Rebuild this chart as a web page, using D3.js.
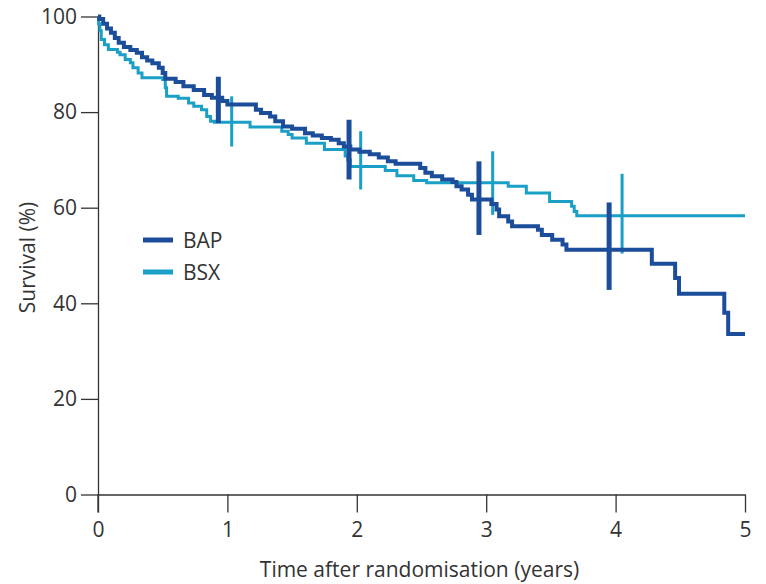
<!DOCTYPE html>
<html lang="en">
<head>
<meta charset="utf-8">
<title>Survival BAP vs BSX</title>
<script src="https://d3js.org/d3.v7.min.js"></script>
<style>
  body { margin: 0; background: #fff; }
  svg text { font-family: "Open Sans", sans-serif; fill: #333; }
</style>
</head>
<body>
<svg id="chart" width="766" height="584"></svg>
<script>
// step points: [years, survival %]
const bap = [
  [0, 100], [0.01, 99.5], [0.04, 98.5], [0.07, 97.5], [0.1, 96.6], [0.13, 95.5],
  [0.16, 94.5], [0.2, 93.6], [0.25, 93.0], [0.3, 92.4], [0.34, 91.5], [0.38, 90.8],
  [0.42, 90.2], [0.47, 89.3], [0.5, 88.2], [0.52, 87.0], [0.6, 86.3], [0.66, 85.4],
  [0.74, 84.6], [0.82, 83.6], [0.88, 83.0], [0.96, 82.3], [1.0, 81.6], [1.22, 80.5],
  [1.26, 79.8], [1.33, 79.1], [1.37, 78.1], [1.43, 77.0], [1.5, 76.5], [1.6, 75.6],
  [1.66, 75.1], [1.73, 74.6], [1.8, 74.2], [1.86, 73.5], [1.9, 72.8], [1.95, 72.2],
  [2.02, 71.7], [2.1, 71.2], [2.17, 70.5], [2.24, 69.7], [2.3, 69.2], [2.49, 68.3],
  [2.53, 67.3], [2.58, 66.6], [2.66, 65.9], [2.74, 65.4], [2.77, 64.5], [2.81, 63.8],
  [2.86, 62.7], [2.89, 61.7], [3.04, 60.8], [3.08, 59.6], [3.1, 58.2], [3.17, 57.1],
  [3.2, 56.1], [3.4, 55.4], [3.43, 54.3], [3.51, 53.3], [3.59, 52.3], [3.62, 51.2],
  [4.28, 48.3], [4.46, 45.3], [4.49, 42.0], [4.84, 38.0], [4.87, 33.6], [5.0, 33.6]
];
const bsx = [
  [0, 100], [0.005, 98.5], [0.015, 97.0], [0.025, 95.2], [0.05, 94.1], [0.08, 93.1],
  [0.15, 92.5], [0.17, 92.0], [0.21, 91.0], [0.25, 90.3], [0.27, 89.3], [0.31, 88.2],
  [0.34, 87.2], [0.5, 86.8], [0.52, 85.1], [0.53, 83.3], [0.62, 82.9], [0.7, 81.9],
  [0.74, 81.2], [0.8, 80.5], [0.84, 79.1], [0.87, 78.1], [0.9, 77.9], [1.175, 76.9],
  [1.42, 76.0], [1.47, 75.3], [1.5, 74.6], [1.61, 73.5], [1.75, 72.2], [1.91, 70.8],
  [1.93, 70.0], [1.95, 68.6], [2.22, 67.8], [2.31, 66.7], [2.44, 65.7], [2.54, 65.2],
  [3.17, 64.5], [3.31, 63.1], [3.49, 61.3], [3.66, 60.3], [3.68, 59.2], [3.7, 58.3],
  [5.0, 58.3]
];
// confidence interval bars: [years, low, high]
const bapCI = [[0.93, 77.7, 87.4], [1.94, 65.9, 78.4], [2.944, 54.3, 69.7], [3.95, 42.8, 61.1]];
const bsxCI = [[1.033, 72.8, 83.3], [2.03, 63.8, 76.0], [3.05, 58.5, 71.8], [4.05, 50.4, 67.1]];
const xTicks = [0, 1, 2, 3, 4, 5];
const yTicks = [0, 20, 40, 60, 80, 100];
const series = [
  { name: "BAP", pts: bap, ci: bapCI, color: "#1b4d9b", w: 4, ciW: 5 },
  { name: "BSX", pts: bsx, ci: bsxCI, color: "#1a9fc6", w: 3, ciW: 3 }
];

const svg = d3.select("#chart");
const x = d3.scaleLinear().domain([0, 5]).range([98, 745]);
const y = d3.scaleLinear().domain([0, 100]).range([494.5, 16.5]);

const xAxis = svg.append("g")
  .attr("transform", "translate(0," + y(0) + ")")
  .call(d3.axisBottom(x).tickValues(xTicks).tickFormat(d3.format("d"))
    .tickSize(18).tickSizeOuter(0).tickPadding(10));
const yAxis = svg.append("g")
  .attr("transform", "translate(" + x(0) + ",0)")
  .call(d3.axisLeft(y).tickValues(yTicks).tickFormat(d3.format("d"))
    .tickSize(17).tickSizeOuter(0).tickPadding(4));

[xAxis, yAxis].forEach(function(g) {
  g.selectAll("path, line").attr("stroke", "#333").attr("stroke-width", 1.3);
  g.selectAll("text").attr("font-size", 21).attr("fill", "#333")
    .style("font-family", '"Open Sans", sans-serif');
});
// y axis line continues down to the bottom of the x ticks
yAxis.append("line").attr("x1", 0).attr("x2", 0).attr("y1", y(0)).attr("y2", y(0) + 18)
  .attr("stroke", "#333").attr("stroke-width", 1.3);

svg.append("text")
  .attr("x", (x(0) + x(5)) / 2 - 2).attr("y", 577)
  .attr("text-anchor", "middle").attr("font-size", 21)
  .text("Time after randomisation (years)");
svg.append("text")
  .attr("transform", "translate(35," + (y(50) + 2) + ") rotate(-90)")
  .attr("text-anchor", "middle").attr("font-size", 21)
  .text("Survival (%)");

const line = d3.line().x(d => x(d[0])).y(d => y(d[1])).curve(d3.curveStepAfter);

// draw BSX first so BAP lies on top
series.slice().reverse().forEach(function(s) {
  svg.append("path").datum(s.pts)
    .attr("d", line).attr("fill", "none")
    .attr("stroke", s.color).attr("stroke-width", s.w);
  svg.selectAll(null).data(s.ci).join("line")
    .attr("x1", d => x(d[0])).attr("x2", d => x(d[0]))
    .attr("y1", d => y(d[1])).attr("y2", d => y(d[2]))
    .attr("stroke", s.color).attr("stroke-width", s.ciW);
});

// legend
const legend = svg.append("g");
series.forEach(function(s, i) {
  const yy = 240 + i * 32;
  legend.append("line").attr("x1", 143).attr("x2", 173).attr("y1", yy).attr("y2", yy)
    .attr("stroke", s.color).attr("stroke-width", 5);
  legend.append("text").attr("x", 183).attr("y", yy + 8).attr("font-size", 21).text(s.name);
});
</script>
</body>
</html>
